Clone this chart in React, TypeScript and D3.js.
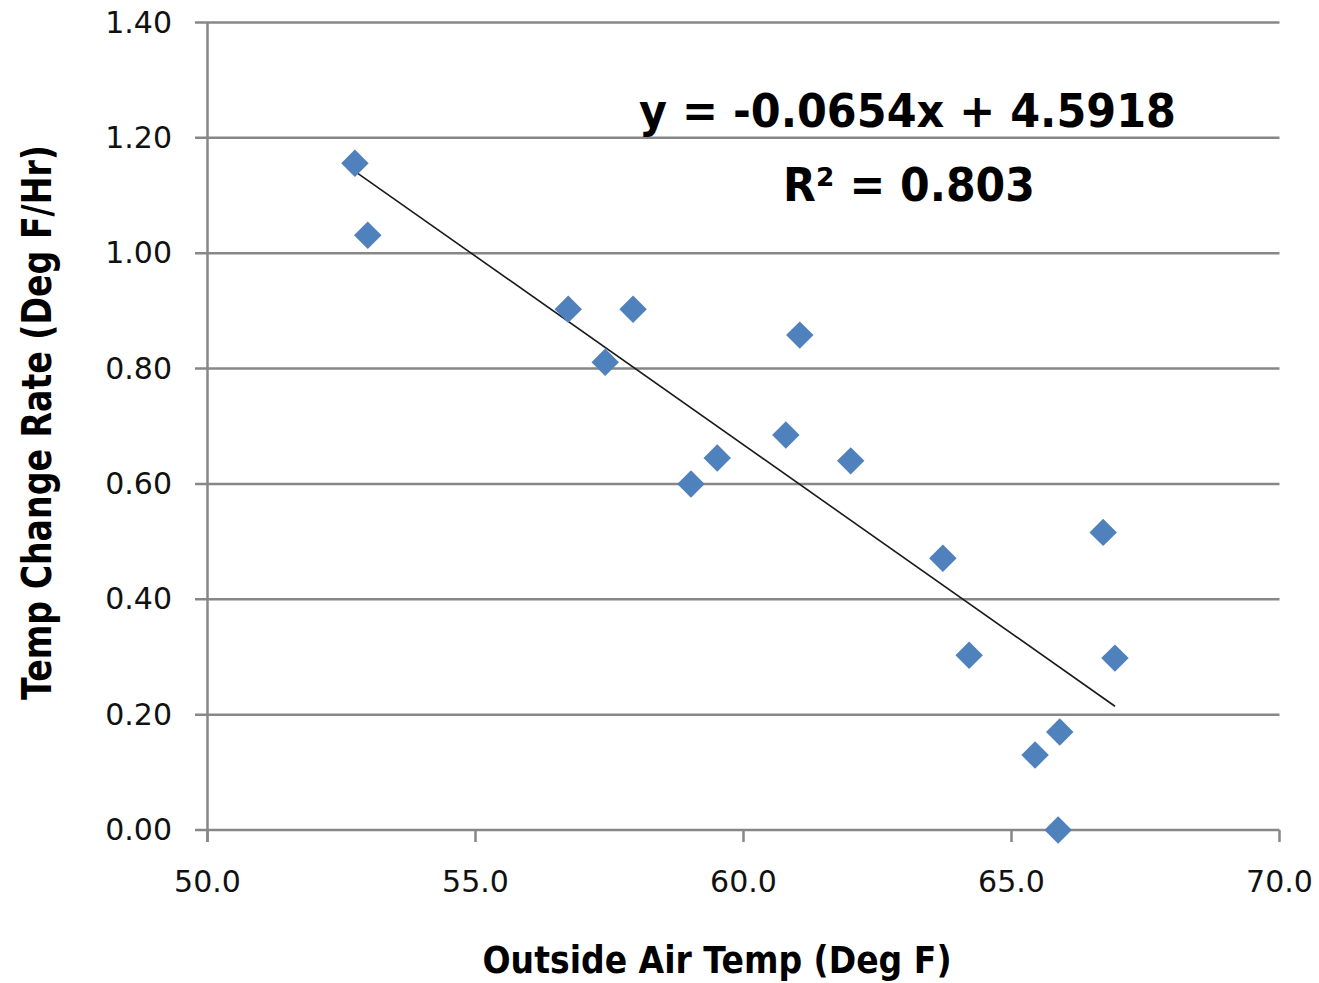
import React from "react";
import * as d3 from "d3";

// Outside air temperature (deg F) and the measured rate of change (deg F / hr)
const outsideTemp = [52.75, 52.99, 56.73, 57.42, 57.94, 59.02, 59.51, 60.79, 61.05, 62.0, 63.72, 64.21, 66.71, 66.93, 65.9, 65.44, 65.87];
const changeRate = [1.156, 1.031, 0.903, 0.811, 0.903, 0.6, 0.645, 0.685, 0.858, 0.64, 0.471, 0.303, 0.516, 0.298, 0.17, 0.13, 0.0];

const xTicks = [50, 55, 60, 65, 70];
const yTicks = [0, 0.2, 0.4, 0.6, 0.8, 1.0, 1.2, 1.4];

// Linear trendline reported on the chart
const trendSlope = -0.0654;
const trendIntercept = 4.5918;
const rSquared = 0.803;

const W = 1319;
const H = 983;
const FONT = "'DejaVu Sans', Verdana, sans-serif";
const GRID = "#878787";
const MARKER = "#4F81BD";

export default function App() {
  const x = d3.scaleLinear().domain([50, 70]).range([207.5, 1279.5]);
  const y = d3.scaleLinear().domain([0, 1.4]).range([830, 22.5]);
  const fx = d3.format(".1f");
  const fy = d3.format(".2f");

  const points = outsideTemp.map((t, i) => ({ t, r: changeRate[i] }));
  const [xMin, xMax] = d3.extent(outsideTemp) as [number, number];
  const trend = d3
    .line<number>()
    .x((v) => x(v))
    .y((v) => y(trendSlope * v + trendIntercept));

  // diamond with a half-diagonal of about 15.5px
  const diamond = d3.symbol().type(d3.symbolDiamond2).size(2 * 15.5 * 15.5)();

  const eq = `y = ${trendSlope}x + ${trendIntercept}`;

  return (
    <svg
      width={W}
      height={H}
      style={{ position: "absolute", left: 0, top: 0, background: "#fff" }}
    >
      {/* horizontal gridlines */}
      {yTicks.map((t) => (
        <line
          key={"g" + t}
          x1={195}
          x2={x(70)}
          y1={y(t)}
          y2={y(t)}
          stroke={GRID}
          strokeWidth={2.5}
        />
      ))}
      {/* y axis line */}
      <line x1={x(50)} x2={x(50)} y1={y(1.4)} y2={y(0) + 12} stroke={GRID} strokeWidth={2.5} />
      {/* x axis tick marks */}
      {xTicks.map((t) => (
        <line key={"xt" + t} x1={x(t)} x2={x(t)} y1={y(0)} y2={y(0) + 12} stroke={GRID} strokeWidth={2.5} />
      ))}

      {/* y tick labels */}
      {yTicks.map((t) => (
        <text
          key={"yl" + t}
          x={172}
          y={y(t) + 10}
          textAnchor="end"
          fontFamily={FONT}
          fontSize={30}
          fill="#111"
        >
          {fy(t)}
        </text>
      ))}
      {/* x tick labels */}
      {xTicks.map((t) => (
        <text
          key={"xl" + t}
          x={x(t)}
          y={892}
          textAnchor="middle"
          fontFamily={FONT}
          fontSize={30}
          fill="#111"
        >
          {fx(t)}
        </text>
      ))}

      {/* trendline */}
      <path d={trend([xMin, xMax]) || ""} fill="none" stroke="#1a1a1a" strokeWidth={1.6} />

      {/* data markers */}
      {points.map((p, i) => (
        <path
          key={"p" + i}
          d={diamond || ""}
          transform={`translate(${x(p.t)},${y(p.r)})`}
          fill={MARKER}
        />
      ))}

      {/* trendline equation and fit */}
      <text
        x={639}
        y={127}
        fontFamily={FONT}
        fontWeight="bold"
        fontSize={46}
        textLength={537}
        lengthAdjust="spacingAndGlyphs"
        fill="#000"
      >
        {eq}
      </text>
      <text
        x={783}
        y={201}
        fontFamily={FONT}
        fontWeight="bold"
        fontSize={46}
        textLength={252}
        lengthAdjust="spacingAndGlyphs"
        fill="#000"
      >
        {`R² = ${rSquared}`}
      </text>

      {/* axis titles */}
      <text
        x={717}
        y={973}
        textAnchor="middle"
        fontFamily={FONT}
        fontWeight="bold"
        fontSize={37}
        textLength={469}
        lengthAdjust="spacingAndGlyphs"
        fill="#000"
      >
        Outside Air Temp (Deg F)
      </text>
      <text
        transform={`translate(51,422.5) rotate(-90)`}
        textAnchor="middle"
        fontFamily={FONT}
        fontWeight="bold"
        fontSize={41}
        textLength={555}
        lengthAdjust="spacingAndGlyphs"
        fill="#000"
      >
        Temp Change Rate (Deg F/Hr)
      </text>
    </svg>
  );
}
